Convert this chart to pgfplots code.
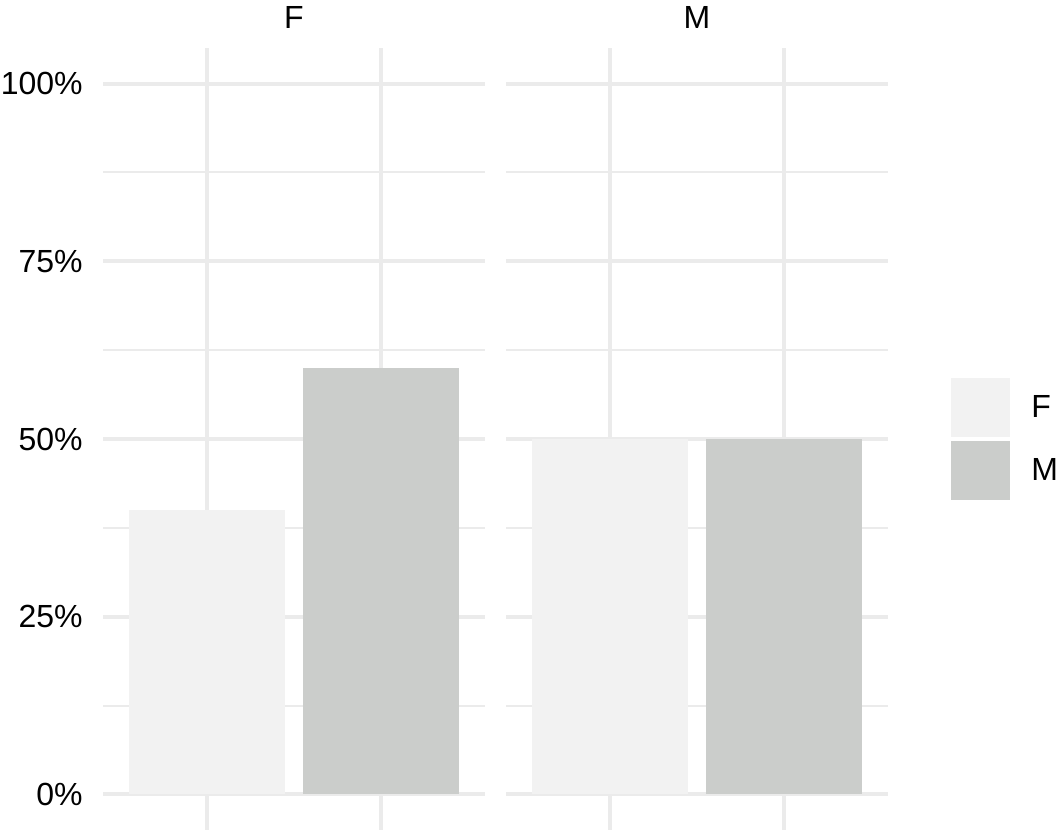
\documentclass[border=0pt]{standalone}
\usepackage{fontspec}
\setmainfont{Liberation Sans}
\usepackage{pgfplots}
\pgfplotsset{compat=1.18}

\definecolor{gridc}{HTML}{EBEBEB}
\definecolor{barF}{HTML}{F2F2F2}
\definecolor{barM}{HTML}{CBCDCB}

\pgfplotsset{
  facet/.style={
    scale only axis,
    width=191pt, height=391pt,
    xmin=0.4, xmax=2.6, ymin=-5, ymax=105,
    axis line style={draw=none},
    major tick length=0pt, minor tick length=0pt,
    xtick={1,2}, xticklabels={},
    ytick={0,25,50,75,100},
    minor ytick={12.5,37.5,62.5,87.5},
    grid=both,
    major grid style={color=gridc, line width=2pt},
    minor grid style={color=gridc, line width=1pt},
    ybar, bar width=0.9, bar shift=0pt,
    tick label style={font=\fontsize{16}{18}\selectfont, text=black},
    title style={at={(0.5,1)}, anchor=base, yshift=3.5pt, inner sep=0pt,
      font=\fontsize{16}{18}\selectfont, text=black},
  },
}

\begin{document}
\begin{tikzpicture}
\useasboundingbox (0,0) rectangle (530pt,415.5pt);

\begin{axis}[facet, at={(51.5pt,0.5pt)}, anchor=south west,
  title={F},
  yticklabels={0\%,25\%,50\%,75\%,100\%},
  yticklabel style={anchor=east, inner sep=0pt, xshift=-10pt}]
\addplot[fill=barF, draw=none] coordinates {(1,40)};
\addplot[fill=barM, draw=none] coordinates {(2,60)};
\end{axis}

\begin{axis}[facet, at={(253pt,0.5pt)}, anchor=south west,
  title={M},
  yticklabels={},
  legend image code/.code={\fill[#1] (0pt,-14.75pt) rectangle (29.5pt,14.75pt);},
  legend style={draw=none, fill=none, at={(1,0.5)}, anchor=west, xshift=31.5pt,
    inner sep=0pt, row sep=2pt, column sep=10.5pt,
    nodes={inner sep=0pt, font=\fontsize{16}{18}\selectfont, text=black}},
  legend cell align=left]
\addplot[fill=barF, draw=none] coordinates {(1,50)};
\addplot[fill=barM, draw=none] coordinates {(2,50)};
\legend{F,M}
\end{axis}
\end{tikzpicture}
\end{document}
